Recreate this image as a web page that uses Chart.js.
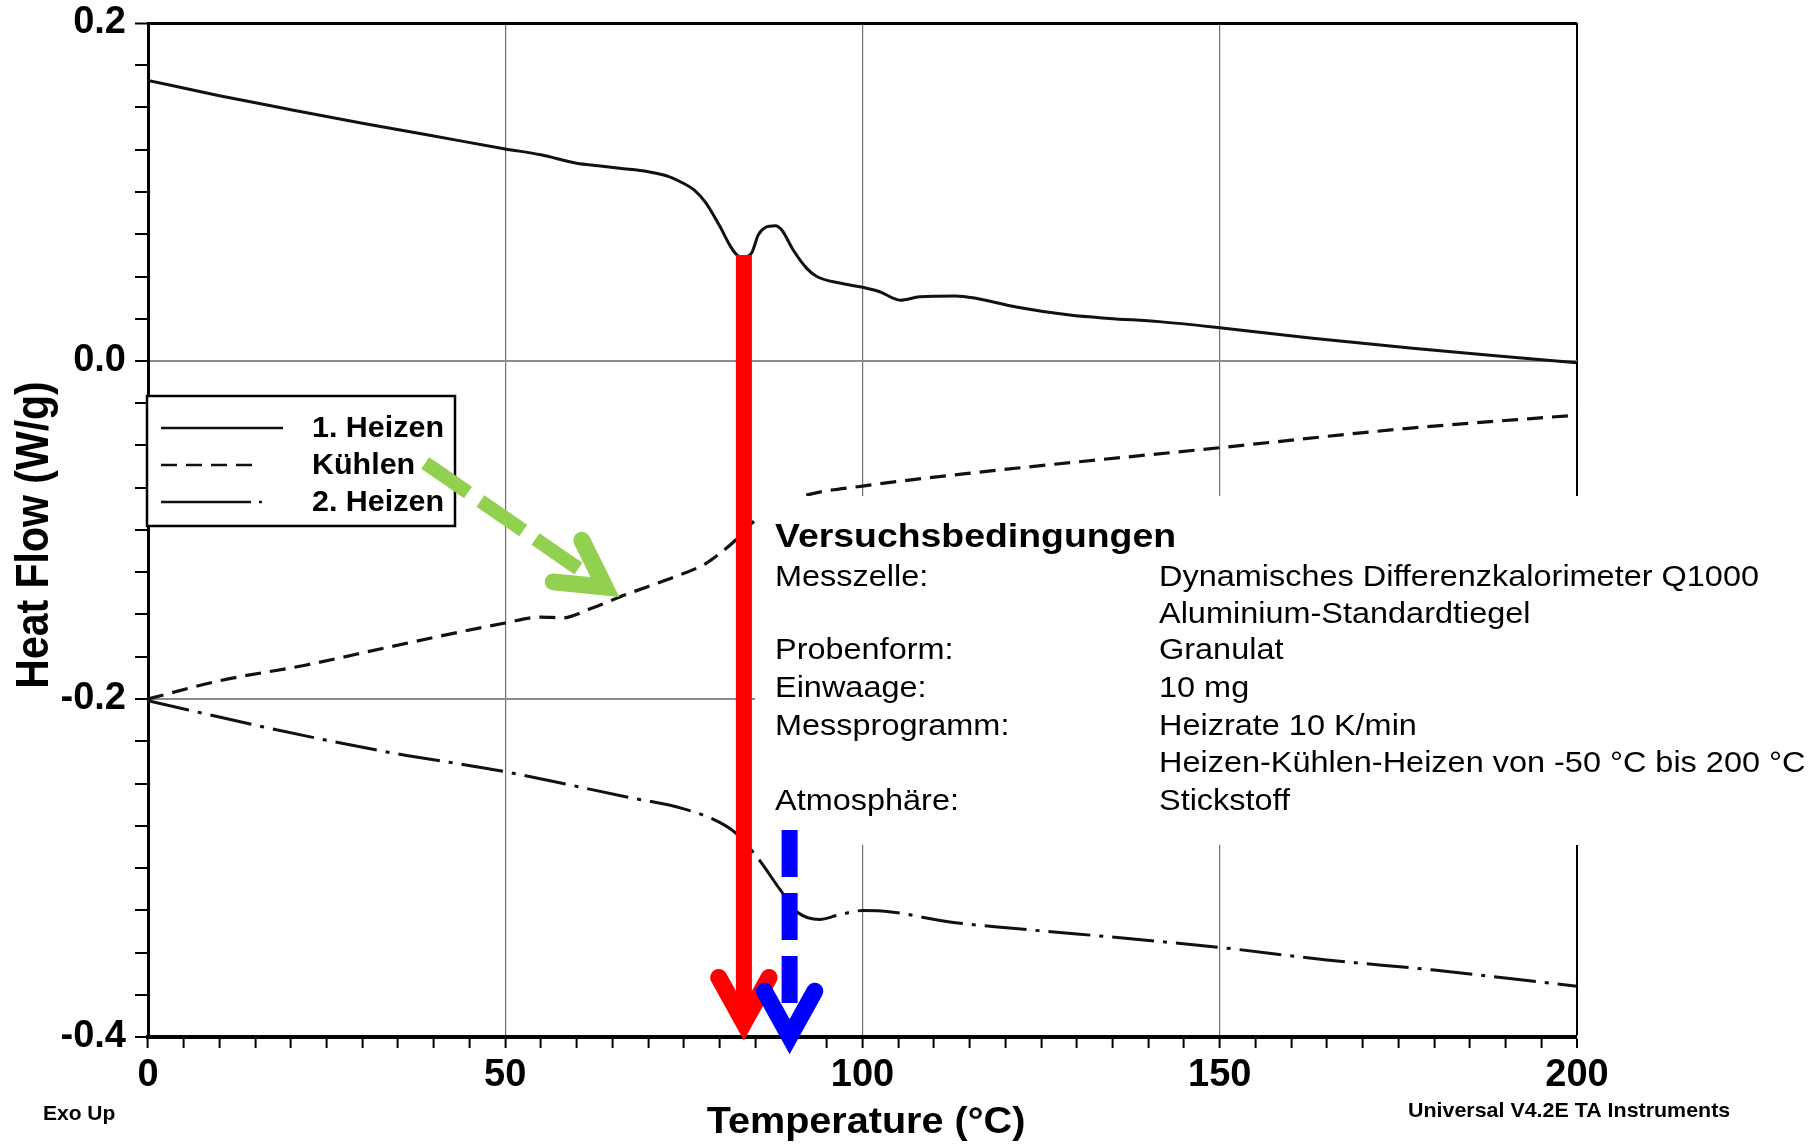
<!DOCTYPE html>
<html>
<head>
<meta charset="utf-8">
<script src="https://cdn.jsdelivr.net/npm/chart.js@4.4.1/dist/chart.umd.min.js"></script>
<style>
  html, body { margin: 0; padding: 0; background: #fff; }
</style>
</head>
<body>
<canvas id="dsc" width="1808" height="1146"></canvas>
<script>
// DSC-Kurven: 1. Heizen, Kühlen, 2. Heizen

const heizen1T  = [0, 10, 20, 30, 40, 50, 55, 60, 63, 66, 70, 73, 75, 76.5, 78, 80, 81.5, 82.5, 83.5, 84.5, 85.4, 86.4, 87.8, 88.7, 90.3, 92.2, 93.6, 97, 100, 102.4, 105.3, 108, 113, 116, 121.5, 129, 134.5, 141.5, 150, 163, 177, 189, 200]
const heizen1HF = [0.166, 0.157, 0.1487, 0.1407, 0.1331, 0.1255, 0.122, 0.117, 0.1155, 0.114, 0.112, 0.109, 0.105, 0.101, 0.094, 0.080, 0.068, 0.0625, 0.0615, 0.064, 0.0745, 0.079, 0.080, 0.0775, 0.0657, 0.0548, 0.050, 0.046, 0.0436, 0.041, 0.036, 0.038, 0.0385, 0.037, 0.032, 0.0272, 0.0252, 0.0233, 0.0197, 0.0134, 0.0075, 0.003, -0.001]

const kuehlenT  = [0, 10, 22, 34, 50, 55, 58, 62, 67, 72.5, 78, 80, 82.5, 84.5, 87, 92, 100, 117, 150, 176, 200]
const kuehlenHF = [-0.200, -0.1892, -0.180, -0.169, -0.155, -0.1515, -0.152, -0.1465, -0.138, -0.1296, -0.120, -0.114, -0.105, -0.096, -0.088, -0.0795, -0.074, -0.0655, -0.0513, -0.040, -0.032]

const heizen2T  = [0, 16, 33, 50, 67, 75, 80, 82.3, 85.5, 88.5, 91, 94, 96.5, 100, 104, 112, 121, 130, 150, 165, 180, 200]
const heizen2HF = [-0.201, -0.2164, -0.231, -0.243, -0.258, -0.265, -0.273, -0.2795, -0.295, -0.313, -0.3265, -0.3304, -0.328, -0.3252, -0.326, -0.3318, -0.3357, -0.339, -0.347, -0.3544, -0.3604, -0.370]

const serien = ["1. Heizen", "Kühlen", "2. Heizen"]

const xLabels = [0, 50, 100, 150, 200]
const yLabels = [0.2, 0.0, -0.2, -0.4]

// Pfeile in Datenkoordinaten [T, HF]: rot, blau, grün
const pfeilStart  = [[83.4, 0.0627], [89.8, -0.2775], [38.8, -0.0604]]
const pfeilEnde   = [[83.4, -0.3917], [89.8, -0.381], [63.96, -0.1337]]
const pfeilSpitze = [[83.4, -0.3917], [89.8, -0.3998], [63.96, -0.1337]]

const kastenTitel = "Versuchsbedingungen"
const kastenLinks = ["Messzelle:", "", "Probenform:", "Einwaage:", "Messprogramm:", "", "Atmosphäre:"]
const kastenRechts = [
  "Dynamisches Differenzkalorimeter Q1000",
  "Aluminium-Standardtiegel",
  "Granulat",
  "10 mg",
  "Heizrate 10 K/min",
  "Heizen-Kühlen-Heizen von -50 °C bis 200 °C",
  "Stickstoff"
]

const FONT = '"Liberation Sans", Arial, sans-serif'

function punkte(t, hf) {
  return t.map((v, i) => ({ x: v, y: hf[i] }))
}

function text(ctx, s, x, y, font, sx, align) {
  ctx.save()
  ctx.translate(x, y)
  ctx.scale(sx || 1, 1)
  ctx.font = font
  ctx.textAlign = align || "left"
  ctx.textBaseline = "alphabetic"
  ctx.fillStyle = "#000"
  ctx.fillText(s, 0, 0)
  ctx.restore()
}

function zeichneLegende(ctx, chart) {
  const striche = [[], [16, 9], [90, 8, 3, 8]]
  const laengen = [122, 95, 101]
  const zeilenY = [428, 465, 502]
  ctx.save()
  ctx.fillStyle = "#fff"
  ctx.fillRect(147, 396, 308, 130)
  ctx.lineWidth = 2.5
  ctx.strokeStyle = "#000"
  ctx.setLineDash([])
  ctx.strokeRect(147, 396, 308, 130)
  chart.data.datasets.forEach((ds, i) => {
    ctx.setLineDash(striche[i])
    ctx.lineWidth = 2.6
    ctx.strokeStyle = "#111"
    ctx.beginPath()
    ctx.moveTo(161, zeilenY[i])
    ctx.lineTo(161 + laengen[i], zeilenY[i])
    ctx.stroke()
    text(ctx, ds.label, 312, zeilenY[i] + 9, "bold 29px " + FONT, 1.05)
  })
  ctx.restore()
}

function zeichneKasten(ctx) {
  ctx.save()
  ctx.fillStyle = "#fff"
  ctx.fillRect(755, 496, 1053, 349)
  text(ctx, kastenTitel, 775, 547, "bold 34px " + FONT, 1.1)
  const basis = [586, 623, 659, 697, 735, 772, 810]
  kastenRechts.forEach((r, i) => {
    if (kastenLinks[i]) text(ctx, kastenLinks[i], 775, basis[i], "29.5px " + FONT, 1.1)
    text(ctx, r, 1159, basis[i], "29.5px " + FONT, 1.1)
  })
  ctx.restore()
}

function zeichnePfeile(ctx, x, y) {
  const stil = [
    { farbe: "#ff0000", breite: 16, strich: [] },
    { farbe: "#0000ff", breite: 16, strich: [47, 16] },
    { farbe: "#92d050", breite: 14, strich: [52, 15] }
  ]
  pfeilStart.forEach((s, i) => {
    const x1 = x.getPixelForValue(s[0]), y1 = y.getPixelForValue(s[1])
    const x2 = x.getPixelForValue(pfeilEnde[i][0]), y2 = y.getPixelForValue(pfeilEnde[i][1])
    const xs = x.getPixelForValue(pfeilSpitze[i][0]), ys = y.getPixelForValue(pfeilSpitze[i][1])
    const st = stil[i]
    ctx.save()
    ctx.strokeStyle = st.farbe
    ctx.lineWidth = st.breite
    ctx.lineCap = "butt"
    ctx.setLineDash(st.strich)
    ctx.beginPath()
    ctx.moveTo(x1, y1)
    ctx.lineTo(x2, y2)
    ctx.stroke()

    const w = Math.atan2(ys - y1, xs - x1) + Math.PI
    const L = 52, a = 29 * Math.PI / 180
    ctx.setLineDash([])
    ctx.lineWidth = 17
    ctx.lineCap = "round"
    ctx.lineJoin = "miter"
    ctx.miterLimit = 10
    ctx.beginPath()
    ctx.moveTo(xs + L * Math.cos(w - a), ys + L * Math.sin(w - a))
    ctx.lineTo(xs, ys)
    ctx.lineTo(xs + L * Math.cos(w + a), ys + L * Math.sin(w + a))
    ctx.stroke()
    ctx.restore()
  })
}

function zeichneTitel(ctx) {
  text(ctx, "Temperature (°C)", 866, 1133, "bold 37px " + FONT, 1.07, "center")
  text(ctx, "Exo Up", 43, 1120, "bold 21px " + FONT, 1)
  text(ctx, "Universal V4.2E TA Instruments", 1408, 1117, "bold 21px " + FONT, 1.02)

  ctx.save()
  ctx.translate(48, 535)
  ctx.rotate(-Math.PI / 2)
  ctx.scale(1, 1.12)
  ctx.font = "bold 41px " + FONT
  ctx.textAlign = "center"
  ctx.textBaseline = "alphabetic"
  ctx.fillStyle = "#000"
  ctx.fillText("Heat Flow (W/g)", 0, 0)
  ctx.restore()
}

const anmerkungen = {
  id: "anmerkungen",
  afterDatasetsDraw(chart) {
    const { ctx, scales: { x, y } } = chart
    zeichneLegende(ctx, chart)
    zeichneKasten(ctx)
    zeichnePfeile(ctx, x, y)
  },
  afterDraw(chart) {
    zeichneTitel(chart.ctx)
  }
}

const istLabel = (v, liste) => liste.some(l => Math.abs(l - v) < 1e-6)

new Chart(document.getElementById("dsc"), {
  type: "line",
  data: {
    datasets: [
      { label: serien[0], data: punkte(heizen1T, heizen1HF), borderColor: "#111", borderWidth: 3 },
      { label: serien[1], data: punkte(kuehlenT, kuehlenHF), borderColor: "#111", borderWidth: 3.2, borderDash: [16, 9] },
      { label: serien[2], data: punkte(heizen2T, heizen2HF), borderColor: "#111", borderWidth: 3, borderDash: [42, 9, 4, 9] }
    ]
  },
  options: {
    responsive: false,
    devicePixelRatio: 1,
    animation: false,
    events: [],
    layout: { padding: { left: 0, top: 23, right: 231, bottom: 0 } },
    elements: {
      point: { radius: 0 },
      line: { cubicInterpolationMode: "monotone", fill: false }
    },
    plugins: { legend: { display: false }, tooltip: { enabled: false } },
    scales: {
      x: {
        type: "linear", min: 0, max: 200,
        afterFit: s => { s.height = 109 },
        ticks: {
          stepSize: 5, autoSkip: false, maxRotation: 0, padding: 5, maxTicksLimit: 100,
          color: "#000", font: { family: FONT, size: 38, weight: "bold" },
          callback: v => istLabel(v, xLabels) ? String(v) : ""
        },
        grid: {
          color: c => {
            const v = c.tick ? c.tick.value : -1
            if (v === 200) return "#000"
            return (v === 50 || v === 100 || v === 150) ? "#707070" : "rgba(0,0,0,0)"
          },
          lineWidth: c => (c.tick && c.tick.value === 200) ? 2 : 1.2,
          tickColor: "#000", tickLength: 11, tickWidth: 2
        },
        border: { color: "#000", width: 4 }
      },
      y: {
        type: "linear", min: -0.4, max: 0.2,
        afterFit: s => { s.width = 148 },
        ticks: {
          stepSize: 0.025, autoSkip: false, padding: 9, maxTicksLimit: 100,
          color: "#000", font: { family: FONT, size: 38, weight: "bold", lineHeight: 0.7 },
          callback: v => istLabel(v, yLabels) ? v.toFixed(1) : ""
        },
        grid: {
          color: c => {
            const v = c.tick ? Math.round(c.tick.value * 1000) : 1
            if (v === 200) return "#000"
            return (v === 0 || v === -200) ? "#8c8c8c" : "rgba(0,0,0,0)"
          },
          lineWidth: c => (c.tick && Math.round(c.tick.value * 1000) === 200) ? 3 : 2,
          tickColor: "#000", tickLength: 13, tickWidth: 2
        },
        border: { color: "#000", width: 3 }
      }
    }
  },
  plugins: [anmerkungen]
})
</script>
</body>
</html>
